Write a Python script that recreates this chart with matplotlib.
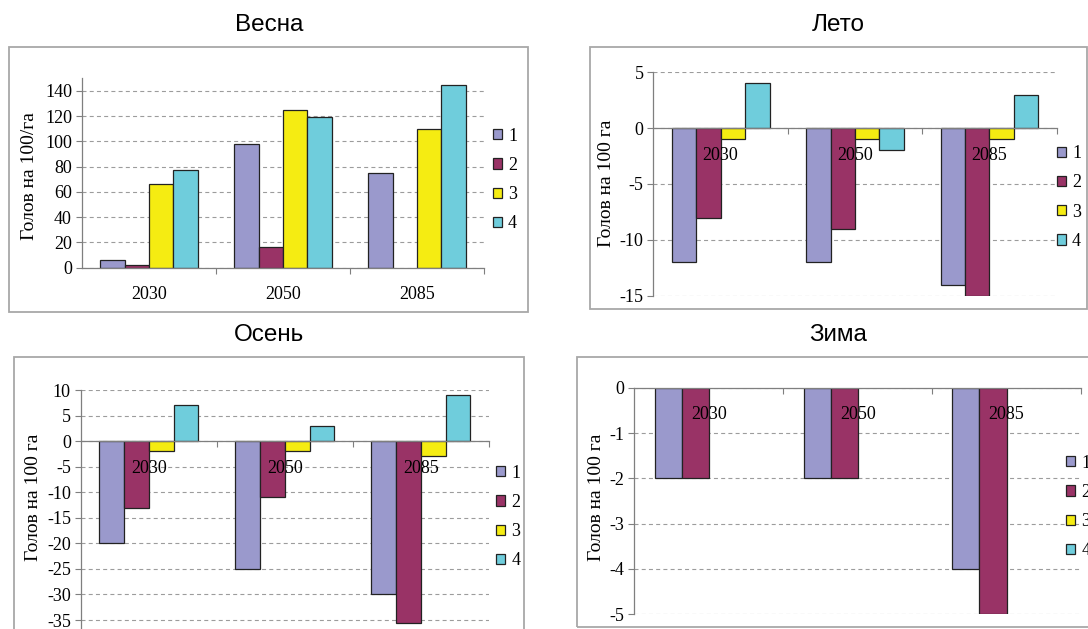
import matplotlib
matplotlib.use("Agg")
import matplotlib.pyplot as plt
from matplotlib.patches import Rectangle
from matplotlib.transforms import offset_copy

# Data
years = ["2030", "2050", "2085"]
series_names = ["1", "2", "3", "4"]

spring = [[6, 98, 75],      # series 1
          [2, 16, 0],       # series 2
          [66, 125, 110],   # series 3
          [77, 119, 145]]   # series 4

summer = [[-12, -12, -14],
          [-8, -9, -15],
          [-1, -1, -1],
          [4, -2, 3]]

autumn = [[-20, -25, -30],
          [-13, -11, -35.5],
          [-2, -2, -3],
          [7, 3, 9]]

winter = [[-2, -2, -4],
          [-2, -2, -5],
          [0, 0, 0],
          [0, 0, 0]]

titles = ["Весна", "Лето", "Осень", "Зима"]
ylabels = ["Голов на 100/га", "Голов на 100 га", "Голов на 100 га", "Голов на 100 га"]
yticks_all = [[0, 20, 40, 60, 80, 100, 120, 140],
              [-15, -10, -5, 0, 5],
              [-35, -30, -25, -20, -15, -10, -5, 0, 5, 10],
              [-5, -4, -3, -2, -1, 0]]
ylims = [(0, 150), (-15, 5), (-40, 10), (-5, 0)]

colors = ["#9a99cc", "#993366", "#f5ec12", "#6fcddc"]

W, H = 1088, 629
fig = plt.figure(figsize=(W / 100, H / 100), dpi=100)
fig.patch.set_facecolor("white")

SERIF = "Liberation Serif"
SANS = "Liberation Sans"


def fbox(x0, y0, x1, y1):
    """pixel box (top-left origin) -> figure fraction rect"""
    return [x0 / W, 1 - y1 / H, (x1 - x0) / W, (y1 - y0) / H]


# Layout in pixels
panel_boxes = [(9.4, 47, 528, 312), (590, 47, 1087, 309),
               (13.9, 356.7, 524.3, 680), (576.9, 356.7, 1120, 626.7)]
plot_areas = [(82, 78.3, 484, 267.7), (653.4, 72.3, 1056.7, 295.7),
              (80.9, 390, 488.9, 645.6), (634.3, 387.7, 1081, 614.3)]
title_pos = [(269, 25), (838, 25), (269, 335), (838, 335)]
ylabel_pos = [(30, 176), (606.6, 183), (33, 497.5), (596.2, 497.5)]
legend_pos = [(492.7, 180), (1056.7, 197.5), (495.8, 517), (1066, 507)]

datasets = [spring, summer, autumn, winter]
width = 1 / 5.5
offsets = [-1.5, -0.5, 0.5, 1.5]

for k in range(4):
    # chart frame
    bx = panel_boxes[k]
    fig.patches.append(Rectangle((bx[0] / W, 1 - bx[3] / H),
                                 (bx[2] - bx[0]) / W, (bx[3] - bx[1]) / H,
                                 transform=fig.transFigure, fill=False,
                                 edgecolor="#a8a8a8", linewidth=1.3, zorder=0))
    tx, ty = title_pos[k]
    fig.text(tx / W, 1 - ty / H, titles[k], ha="center", va="center",
             fontsize=17.5, family=SANS)

    ax = fig.add_axes(fbox(*plot_areas[k]))
    ax.set_facecolor("none")
    data = datasets[k]
    handles = []
    for s in range(4):
        xs = [i + offsets[s] * width for i in range(len(years))]
        # zero-height bars get no outline so they don't show as stray lines
        lws = [0.9 if v != 0 else 0 for v in data[s]]
        b = ax.bar(xs, data[s], width=width, color=colors[s],
                   edgecolor="#222222", linewidth=lws, zorder=2,
                   label=series_names[s])
        handles.append(b)

    ax.set_xlim(-0.5, 2.5)
    ax.set_ylim(*ylims[k])
    ax.set_yticks(yticks_all[k])
    ax.set_yticklabels([str(v) for v in yticks_all[k]], family=SERIF, fontsize=13)
    ax.tick_params(axis="y", direction="out", length=4.3, width=0.8,
                   color="#7f7f7f", pad=2.9)
    ax.set_axisbelow(True)
    ax.yaxis.grid(True, linestyle=(0, (3.6, 2.9)), color="#9c9c9c", linewidth=0.8)

    ax.set_xticks([0.5, 1.5, 2.5])
    ax.set_xticklabels([])
    ax.tick_params(axis="x", direction="out", length=4, width=0.8, color="#7f7f7f")

    for side in ("top", "right"):
        ax.spines[side].set_visible(False)
    ax.spines["bottom"].set_position(("data", 0))
    for side in ("left", "bottom"):
        ax.spines[side].set_color("#7f7f7f")
        ax.spines[side].set_linewidth(0.9)

    # category labels next to the zero axis
    tr = offset_copy(ax.transData, fig=fig, x=0, y=-27, units="dots")
    for i, yr in enumerate(years):
        ax.text(i, 0, yr, transform=tr, ha="center", va="center",
                family=SERIF, fontsize=13, zorder=6, clip_on=False)

    lx, ly = ylabel_pos[k]
    fig.text(lx / W, 1 - ly / H, ylabels[k], rotation=90, ha="center",
             va="center", family=SERIF, fontsize=14)

    gx, gy = legend_pos[k]
    leg = ax.legend(handles=handles, loc="center left",
                    bbox_to_anchor=(gx / W, 1 - gy / H),
                    bbox_transform=fig.transFigure, frameon=False,
                    prop={"family": SERIF, "size": 13},
                    handlelength=0.5, handleheight=0.5, handletextpad=0.35,
                    labelspacing=0.68, borderpad=0, borderaxespad=0)
    for h in leg.legend_handles:
        h.set_linewidth(0.9)
        h.set_edgecolor("#222222")

fig.savefig("out.png", dpi=100, facecolor="white")
